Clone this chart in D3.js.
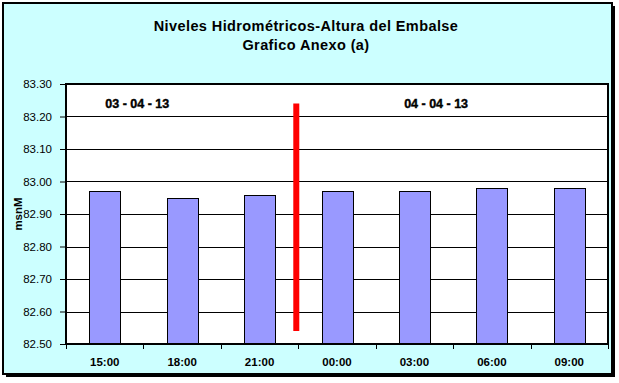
<!DOCTYPE html>
<html><head><meta charset="utf-8">
<script src="https://cdn.jsdelivr.net/npm/d3@7"></script>
<style>html,body{margin:0;padding:0;background:#fff;}svg{display:block;}</style>
</head><body>
<script>
const categories = ["15:00","18:00","21:00","00:00","03:00","06:00","09:00"];
const values = [82.97, 82.95, 82.96, 82.97, 82.97, 82.98, 82.98];
const yTicks = [82.5, 82.6, 82.7, 82.8, 82.9, 83.0, 83.1, 83.2, 83.3];
const dateLabels = [{text:"03 - 04 - 13", after:"15:00", frac:0.92}, {text:"04 - 04 - 13", after:"03:00", frac:0.78}];
const separatorRange = [82.54, 83.24]; // red vertical line between 21:00 and 00:00
const titleLines = ["Niveles Hidrométricos-Altura del Embalse", "Grafico Anexo (a)"];
const yLabel = "msnM";

const W = 619, H = 383;
const svg = d3.select("body").append("svg").attr("width", W).attr("height", H);

// outer frame with shadow
svg.append("rect").attr("x", 6).attr("y", 6).attr("width", 609).attr("height", 371).attr("fill", "#000");
svg.append("rect").attr("x", 3).attr("y", 3).attr("width", 609).attr("height", 371)
  .attr("fill", "#ccffff").attr("stroke", "#000").attr("stroke-width", 2);

const font = "'Liberation Sans', Arial, sans-serif";
svg.append("g").selectAll("text").data(titleLines).join("text")
  .attr("x", 306).attr("y", (d,i) => 31 + i*19)
  .attr("text-anchor", "middle").attr("font-family", font).attr("font-weight", "bold")
  .attr("font-size", 14.5).attr("letter-spacing", 0.4).attr("fill", "#000").text(d => d);

const m = {left: 66, right: 608, top: 84, bottom: 344};
const x = d3.scaleBand().domain(categories).range([m.left, m.right]).paddingInner(0).paddingOuter(0);
const y = d3.scaleLinear().domain([82.5, 83.3]).range([m.bottom, m.top]);

svg.append("rect").attr("x", m.left).attr("y", m.top).attr("width", m.right - m.left).attr("height", m.bottom - m.top).attr("fill", "#fff");

// gridlines
svg.append("g").selectAll("line").data(yTicks.slice(1, -1)).join("line")
  .attr("x1", m.left).attr("x2", m.right).attr("y1", d => Math.round(y(d)) + 0.5).attr("y2", d => Math.round(y(d)) + 0.5)
  .attr("stroke", "#000").attr("stroke-width", 1);

// bars
const bw = 31;
svg.append("g").selectAll("rect").data(values).join("rect")
  .attr("x", (d,i) => Math.round(x(categories[i]) + x.bandwidth()/2 - bw/2) + 0.5)
  .attr("y", d => Math.round(y(d)) + 0.5)
  .attr("width", bw).attr("height", d => m.bottom - Math.round(y(d)))
  .attr("fill", "#9999ff").attr("stroke", "#000").attr("stroke-width", 1);

// plot border
svg.append("rect").attr("x", m.left).attr("y", m.top).attr("width", m.right - m.left).attr("height", m.bottom - m.top)
  .attr("fill", "none").attr("stroke", "#000").attr("stroke-width", 2);

// y axis
const yAxis = d3.axisLeft(y).tickValues(yTicks).tickFormat(d3.format(".2f")).tickSize(6).tickPadding(8);
const ya = svg.append("g").attr("transform", `translate(${m.left},0)`).call(yAxis);
ya.select(".domain").remove();
ya.selectAll("line").attr("stroke", "#000");
ya.selectAll("text").attr("font-family", font).attr("font-size", 11.5).attr("fill", "#000");

// x axis
const xa = svg.append("g").attr("transform", `translate(0,${m.bottom})`)
  .call(d3.axisBottom(x).tickSize(0).tickPadding(14));
xa.select(".domain").remove();
xa.selectAll("text").attr("font-family", font).attr("font-size", 11.5).attr("font-weight", "bold").attr("fill", "#000");
const bounds = categories.map(c => x(c)).concat([m.right]);
svg.append("g").selectAll("line").data(bounds).join("line")
  .attr("x1", d => Math.round(d) + 0.5).attr("x2", d => Math.round(d) + 0.5)
  .attr("y1", m.bottom).attr("y2", m.bottom + 5).attr("stroke", "#000");

// y label
svg.append("text").attr("transform", `translate(22,214) rotate(-90)`)
  .attr("text-anchor", "middle").attr("font-family", font).attr("font-weight", "bold")
  .attr("font-size", 11.5).attr("fill", "#000").text(yLabel);

// date labels
svg.append("g").selectAll("text").data(dateLabels).join("text")
  .attr("x", d => x(d.after) + x.bandwidth() * d.frac)
  .attr("y", 108)
  .attr("text-anchor", "middle").attr("font-family", font).attr("font-weight", "bold")
  .attr("font-size", 12.5).attr("fill", "#000").attr("stroke", "#000").attr("stroke-width", 0.4)
  .text(d => d.text);

// red separator
const sx = x("00:00") - 2;
svg.append("line").attr("x1", sx).attr("x2", sx).attr("y1", y(separatorRange[1])).attr("y2", y(separatorRange[0]))
  .attr("stroke", "#ff0000").attr("stroke-width", 6);
</script>
</body></html>
